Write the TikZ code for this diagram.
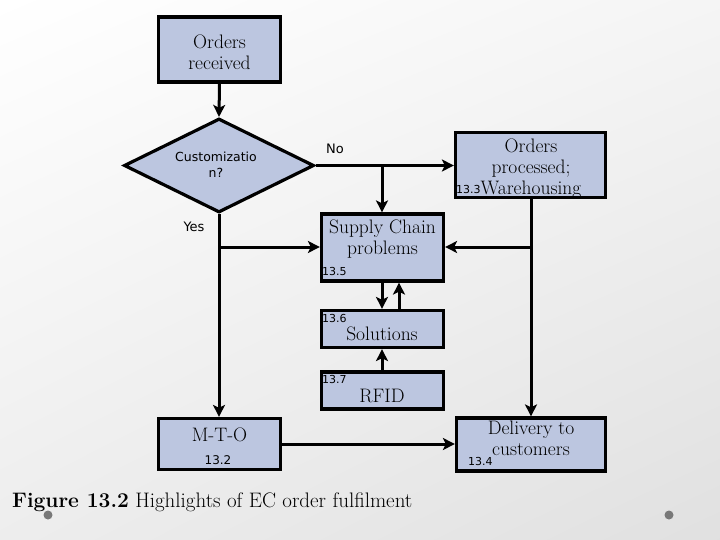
\documentclass[tikz,border=0pt]{standalone}
\usepackage{fontspec}
\newfontfamily\labfont{DejaVu Sans}
\usetikzlibrary{arrows.meta,shapes.geometric,shadings}
\definecolor{boxfill}{RGB}{188,198,224}
\definecolor{dotgray}{RGB}{120,120,120}
\begin{document}
\begin{tikzpicture}[x=1pt,y=-1pt,
  box/.style={draw=black, line width=3.2pt, fill=boxfill, inner sep=0pt},
  txt/.style={inner sep=0pt, align=center, font=\fontsize{19.5}{21}\selectfont},
  num/.style={inner sep=0pt, anchor=west, font=\labfont\fontsize{11}{13}\selectfont},
  small/.style={inner sep=0pt, align=center, font=\labfont\fontsize{12.5}{15}\selectfont},
  conn/.style={line width=3pt, -{Stealth[length=12pt,width=12pt,inset=3pt]}},
  plain/.style={line width=3pt},
]
\shade[upper left=white, upper right=gray!8, lower left=gray!14, lower right=gray!24] (0,0) rectangle (720,540);
\useasboundingbox (0,0) rectangle (720,540);

% boxes
\node[box, minimum width=122pt, minimum height=65pt] (ordrec) at (219.5,49.5) {};
\node[box, diamond, minimum width=190pt, minimum height=94pt] (diam) at (219,165.5) {};
\node[box, minimum width=150pt, minimum height=65pt] (opr) at (530.5,165) {};
\node[box, minimum width=122pt, minimum height=67pt] (sc) at (382.5,247.5) {};
\node[box, minimum width=122pt, minimum height=37pt] (sol) at (382.5,329) {};
\node[box, minimum width=122pt, minimum height=37pt] (rfid) at (382.5,390.5) {};
\node[box, minimum width=122pt, minimum height=51pt] (mto) at (219.5,444) {};
\node[box, minimum width=149pt, minimum height=53pt] (del) at (531,444.5) {};

% texts
\node[txt] (tordrec) at (219.5,52) {Orders\\received};
\node[small, font=\labfont\fontsize{12.5}{16}\selectfont] (tdiam) at (216,164.5) {Customizatio\\n?};
\node[small, font=\labfont\fontsize{13}{15}\selectfont] (tno) at (335,149) {No};
\node[small, font=\labfont\fontsize{13}{15}\selectfont] (tyes) at (194,227) {Yes};
\node[txt] (topr) at (531,168.5) {Orders\\processed;\\Warehousing};
\node[num] (n133) at (456,189) {13.3};
\node[txt] (tsc) at (382.5,239.5) {Supply Chain\\problems};
\node[num] (n135) at (322,271) {13.5};
\node[num] (n136) at (322,318) {13.6};
\node[txt] (tsol) at (382,334) {Solutions};
\node[num] (n137) at (322,379) {13.7};
\node[txt] (trfid) at (382,396) {RFID};
\node[txt] (tmto) at (219.5,435) {M-T-O};
\node[small, font=\labfont\fontsize{12}{14}\selectfont] (n132) at (218,460) {13.2};
\node[txt] (tdel) at (531,438) {Delivery to\\customers};
\node[num] (n134) at (468,461) {13.4};

% connector junctions
\coordinate (j1) at (382,165.5);
\coordinate (j2) at (219,247);
\coordinate (j3) at (531,247);

% connectors
\draw[conn] (ordrec.south) -- (diam.north);
\draw[conn] (diam.east) -- (opr.west |- diam.east);
\draw[conn] (j1) -- (j1 |- sc.north);
\draw[conn] (diam.south) -- (diam.south |- mto.north);
\draw[conn] (j2) -- (sc.west |- j2);
\draw[conn] (opr.south -| j3) -- (j3 |- del.north);
\draw[conn] (j3) -- (sc.east |- j3);
\draw[conn] ([xshift=-0.5pt]sc.south) -- ([xshift=-0.5pt]sol.north);
\draw[conn] ([xshift=16.5pt]sol.north) -- ([xshift=16.5pt]sc.south);
\draw[conn] ([xshift=-0.5pt]rfid.north) -- ([xshift=-0.5pt]sol.south);
\draw[conn] (mto.east) -- (del.west |- mto.east);

% caption
\node[inner sep=0pt, anchor=west, font=\fontsize{21}{24}\selectfont] (cap) at (12,502) {\textbf{Figure 13.2} Highlights of EC order fulfilment};

% decorative dots
\fill[dotgray] (48,515) circle (4.5pt) coordinate (dot1);
\fill[dotgray] (669,515) circle (4.5pt) coordinate (dot2);
\end{tikzpicture}
\end{document}
